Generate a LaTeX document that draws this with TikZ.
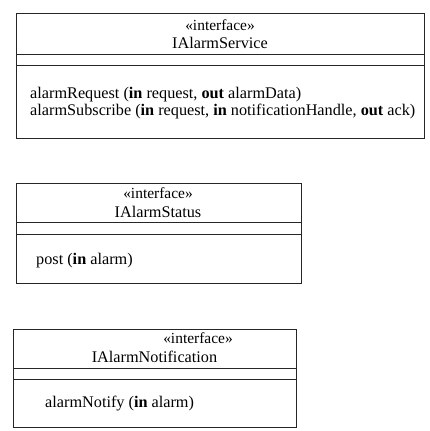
\documentclass[tikz,border=0pt]{standalone}
\usepackage{fontspec}
\setmainfont{Liberation Serif}
\begin{document}
\begin{tikzpicture}[x=1bp,y=-1bp,
  umlbox/.style={draw=black!85,line width=0.9bp},
  stereotxt/.style={inner sep=0pt,font=\fontsize{15.5}{17}\selectfont},
  nametxt/.style={inner sep=0pt,font=\fontsize{16.3}{18}\selectfont},
  optxt/.style={inner sep=0pt,anchor=base west,font=\fontsize{16.3}{18}\selectfont}]
\useasboundingbox (0,0) rectangle (430,431);
% Box 1
\draw[umlbox] (16,13) rectangle (424,138);
\draw[umlbox] (16,54.5) -- (424,54.5);
\draw[umlbox] (16,65.7) -- (424,65.7);
\node[stereotxt] (s1) at (220,25) {«interface»};
\node[nametxt] (t1) at (220,43) {IAlarmService};
\node[optxt] (o1a) at (30,98) {alarmRequest (\textbf{in} request, \textbf{out} alarmData)};
\node[optxt] (o1b) at (30,115) {alarmSubscribe (\textbf{in} request, \textbf{in} notificationHandle, \textbf{out} ack)};
% Box 2
\draw[umlbox] (16,183) rectangle (301,283);
\draw[umlbox] (16,222.7) -- (301,222.7);
\draw[umlbox] (16,234) -- (301,234);
\node[stereotxt] (s2) at (158,192.7) {«interface»};
\node[nametxt] (t2) at (158,211.7) {IAlarmStatus};
\node[optxt] (o2) at (36,264) {post (\textbf{in} alarm)};
% Box 3
\draw[umlbox] (13,329) rectangle (296,427);
\draw[umlbox] (13,368) -- (296,368);
\draw[umlbox] (13,379) -- (296,379);
\node[stereotxt] (s3) at (198,338) {«interface»};
\node[nametxt] (t3) at (154.5,356.7) {IAlarmNotification};
\node[optxt] (o3) at (45,407) {alarmNotify (\textbf{in} alarm)};
\end{tikzpicture}
\end{document}
